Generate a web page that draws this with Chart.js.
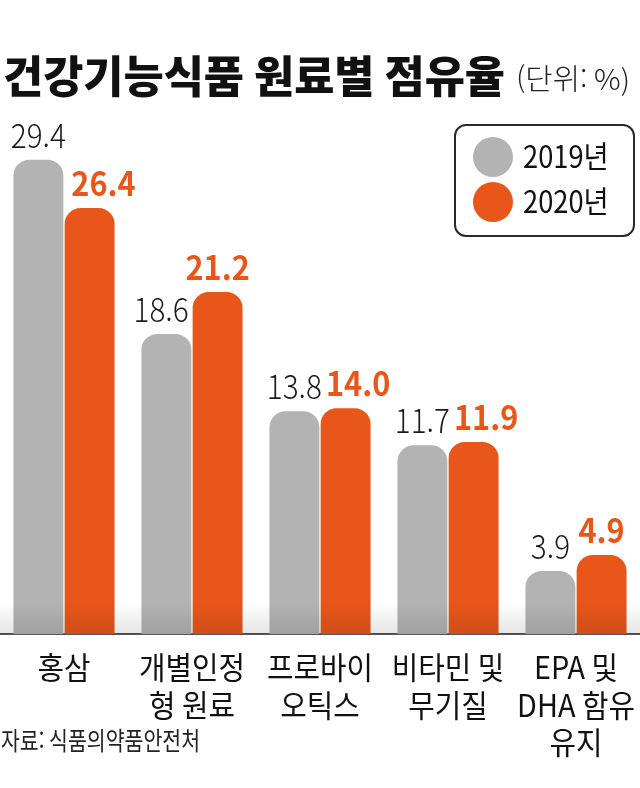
<!DOCTYPE html>
<html lang="ko">
<head>
<meta charset="utf-8">
<script src="https://cdn.jsdelivr.net/npm/chart.js@4/dist/chart.umd.min.js"></script>
<style>
  html, body { margin: 0; padding: 0; background: #fff; }
  #wrap { position: relative; width: 640px; height: 788px; }
  canvas { display: block; }
</style>
</head>
<body>
<div id="wrap"><canvas id="c" width="640" height="788"></canvas></div>
<script>
// ---- data ----
const categories = [['홍삼'], ['개별인정', '형 원료'], ['프로바이', '오틱스'], ['비타민 및', '무기질'], ['EPA 및', 'DHA 함유', '유지']];
const seriesNames = ['2019년', '2020년'];
const values2019 = [29.4, 18.6, 13.8, 11.7, 3.9];
const values2020 = [26.4, 21.2, 14.0, 11.9, 4.9];
const titleText = '건강기능식품 원료별 점유율';
const unitText = '(단위: %)';
const sourceText = '자료: 식품의약품안전처';

const GRAY = '#b3b3b3';
const ORANGE = '#e8561a';
const FONT = '"Noto Sans CJK KR", "Noto Sans", sans-serif';

function drawScaled(ctx, text, x, y, font, color, sx, align) {
  ctx.save();
  ctx.font = font;
  ctx.fillStyle = color;
  ctx.textBaseline = 'alphabetic';
  ctx.textAlign = align || 'left';
  ctx.translate(x, y);
  ctx.scale(sx, 1);
  ctx.fillText(text, 0, 0);
  ctx.restore();
}
function textWidth(ctx, text, font, sx) {
  ctx.save();
  ctx.font = font;
  const w = ctx.measureText(text).width * sx;
  ctx.restore();
  return w;
}
function fitScale(ctx, text, font, target) {
  return target / textWidth(ctx, text, font, 1);
}

const GRAY_FONT = '300 33px ' + FONT;
const ORANGE_FONT = 'bold 33px ' + FONT;
const SX_G = 0.9, SX_O = 0.93;

const decor = {
  id: 'decor',
  afterDatasetsDraw(chart) {
    const ctx = chart.ctx;
    const area = chart.chartArea;
    // subtle shading near baseline
    const g = ctx.createLinearGradient(0, area.bottom - 32, 0, area.bottom);
    g.addColorStop(0, 'rgba(0,0,0,0)');
    g.addColorStop(1, 'rgba(0,0,0,0.10)');
    ctx.save();
    ctx.fillStyle = g;
    ctx.fillRect(area.left, area.bottom - 32, area.right - area.left, 32);
    ctx.restore();

    // value labels with simple collision avoidance
    const m0 = chart.getDatasetMeta(0).data;
    const m1 = chart.getDatasetMeta(1).data;
    const LH = 25; // approx digit height
    m0.forEach((gb, i) => {
      const ob = m1[i];
      const gText = values2019[i].toFixed(1);
      const oText = values2020[i].toFixed(1);
      const gw = textWidth(ctx, gText, GRAY_FONT, SX_G);
      const ow = textWidth(ctx, oText, ORANGE_FONT, SX_O);
      const gBase = gb.y - 12, oBase = ob.y - 12;
      let gx = gb.x;
      if (ob.y < gBase) {
        const limit = ob.x - ob.width / 2 - 4;
        if (gx + gw / 2 > limit) gx = limit - gw / 2;
      }
      let ox = ob.x;
      let minLeft = -Infinity;
      if (gb.y < oBase) minLeft = gb.x + gb.width / 2 + 8;
      if (Math.abs(gBase - oBase) < LH) minLeft = Math.max(minLeft, gx + gw / 2 + 4);
      if (ox - ow / 2 < minLeft) ox = minLeft + ow / 2;
      drawScaled(ctx, gText, gx, gBase, GRAY_FONT, '#1a1a1a', SX_G, 'center');
      drawScaled(ctx, oText, ox, oBase, ORANGE_FONT, ORANGE, SX_O, 'center');
    });

    // x category labels
    const xs = chart.scales.x;
    categories.forEach((lines, i) => {
      const cx = xs.getPixelForValue(i);
      lines.forEach((ln, j) => {
        drawScaled(ctx, ln, cx, area.bottom + 45 + j * 37.5, '31px ' + FONT, '#111', 0.93, 'center');
      });
    });
  },
  afterDraw(chart) {
    const ctx = chart.ctx;
    // title
    const tFont = '900 44px ' + FONT;
    drawScaled(ctx, titleText, 3, 93, tFont, '#111', fitScale(ctx, titleText, tFont, 502), 'left');
    const uFont = '300 29px ' + FONT;
    drawScaled(ctx, unitText, 516, 90, uFont, '#222', fitScale(ctx, unitText, uFont, 114), 'left');
    // source
    const sFont = '25px ' + FONT;
    drawScaled(ctx, sourceText, 1, 750, sFont, '#222', fitScale(ctx, sourceText, sFont, 199), 'left');

    // legend box
    ctx.save();
    ctx.lineWidth = 2;
    ctx.strokeStyle = '#2a2a2a';
    ctx.beginPath();
    ctx.roundRect(455, 125, 179, 111, 11);
    ctx.stroke();
    ctx.restore();
    seriesNames.forEach((nm, k) => {
      const cy = 157 + k * 45;
      ctx.save();
      ctx.fillStyle = chart.data.datasets[k].backgroundColor;
      ctx.beginPath();
      ctx.arc(493, cy, 20, 0, Math.PI * 2);
      ctx.fill();
      ctx.restore();
      drawScaled(ctx, nm, 523, cy + 11, '31px ' + FONT, '#111', 0.88, 'left');
    });
  }
};

const radius = { topLeft: 16, topRight: 16, bottomLeft: 0, bottomRight: 0 };

new Chart(document.getElementById('c'), {
  type: 'bar',
  data: {
    labels: categories.map(c => c.join(' ')),
    datasets: [
      { label: seriesNames[0], data: values2019, backgroundColor: GRAY, borderRadius: radius, borderSkipped: false, categoryPercentage: 0.8, barPercentage: 0.975 },
      { label: seriesNames[1], data: values2020, backgroundColor: ORANGE, borderRadius: radius, borderSkipped: false, categoryPercentage: 0.8, barPercentage: 0.975 }
    ]
  },
  options: {
    responsive: false,
    animation: false,
    devicePixelRatio: 1,
    layout: { padding: { top: 150, left: 0, right: 0, bottom: 0 } },
    plugins: { legend: { display: false }, tooltip: { enabled: false }, title: { display: false } },
    scales: {
      x: {
        grid: { display: false },
        border: { display: true, color: '#555', width: 2 },
        ticks: { display: false },
        afterFit(scale) { scale.height = 154; }
      },
      y: {
        display: false,
        min: 0,
        max: 30,
        afterFit(scale) { scale.width = 0; }
      }
    }
  },
  plugins: [decor]
});
</script>
</body>
</html>
